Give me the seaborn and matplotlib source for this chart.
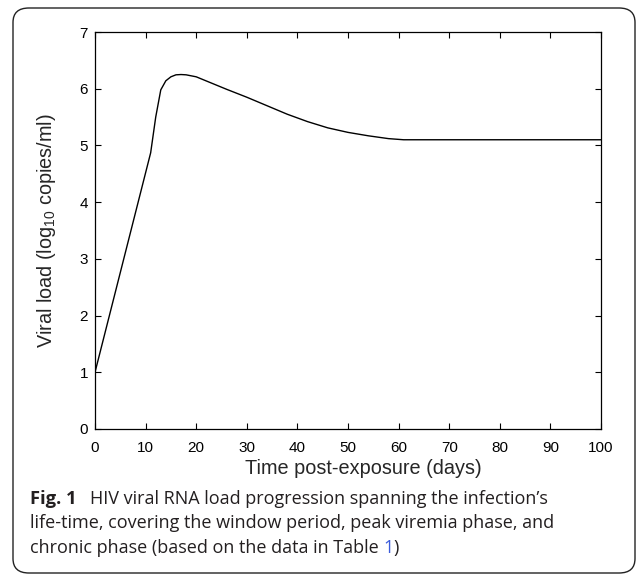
import matplotlib
matplotlib.use("Agg")
import matplotlib.pyplot as plt
from matplotlib.patches import FancyBboxPatch
import seaborn as sns
import pandas as pd

# Data
days = [0, 11, 12, 13, 14, 15, 16, 17, 18, 20, 23, 26, 30, 34, 38, 42, 46, 50, 54, 58, 61, 100]
viral_load = [1.0, 4.87, 5.5, 5.98, 6.14, 6.21, 6.245, 6.25, 6.245, 6.21, 6.10, 5.99,
              5.85, 5.70, 5.55, 5.42, 5.31, 5.23, 5.17, 5.12, 5.10, 5.10]
x_ticks = [0, 10, 20, 30, 40, 50, 60, 70, 80, 90, 100]
y_ticks = [0, 1, 2, 3, 4, 5, 6, 7]

df = pd.DataFrame({"day": days, "load": viral_load})

sns.set_style("ticks")
plt.rcParams['font.family'] = ['Liberation Sans', 'DejaVu Sans']
plt.rcParams['mathtext.fontset'] = 'custom'
plt.rcParams['mathtext.rm'] = 'Liberation Sans'

W, H = 637, 576
fig = plt.figure(figsize=(W / 100, H / 100), dpi=100)
ax = fig.add_axes([95 / W, 1 - 429 / H, (601 - 95) / W, (429 - 32) / H])

sns.lineplot(data=df, x="day", y="load", ax=ax, color="black", linewidth=1.0)

ax.set_xlim(0, 100)
ax.set_ylim(0, 7)
ax.set_xticks(x_ticks)
ax.set_yticks(y_ticks)
ax.tick_params(direction='in', top=True, right=True, length=4, width=0.8,
               labelsize=11, colors='black')
ax.tick_params(axis='x', pad=9)
ax.tick_params(axis='y', pad=5)
for s in ax.spines.values():
    s.set_visible(True)
    s.set_linewidth(0.9)
    s.set_color('black')
xl = ax.set_xlabel("Time post-exposure (days)", fontsize=14.3, va='center')
yl = ax.set_ylabel(r"Viral load (log$_{10}$ copies/ml)", fontsize=14.3, va='center')
ax.xaxis.set_label_coords((363 - 95) / 506, (429 - 469) / 397)
ax.yaxis.set_label_coords((47 - 95) / 506, 0.5)

# Rounded outer frame
box = FancyBboxPatch((13 / W, 1 - 573 / H), (635 - 13) / W, (573 - 8) / H,
                     boxstyle="round,pad=0,rounding_size=0.025",
                     transform=fig.transFigure, fill=False, edgecolor='#222222',
                     linewidth=1.0, zorder=-1)
fig.patches.append(box)

# Caption
cap_font = ['Open Sans', 'DejaVu Sans']
cap_size = 13.0
cap_color = '#231f20'
fig.text(30 / W, 1 - 499 / H, "Fig. 1", fontsize=cap_size * 1.02, fontweight='bold',
         family=cap_font, color=cap_color, va='center')
fig.text(90 / W, 1 - 499 / H, "HIV viral RNA load progression spanning the infection\u2019s",
         fontsize=cap_size, family=cap_font, color=cap_color, va='center')
fig.text(30 / W, 1 - 523.5 / H, "life-time, covering the window period, peak viremia phase, and",
         fontsize=cap_size, family=cap_font, color=cap_color, va='center')
t1 = fig.text(30 / W, 1 - 548 / H, "chronic phase (based on the data in Table ",
              fontsize=cap_size, family=cap_font, color=cap_color, va='center')
fig.canvas.draw()
r = fig.canvas.get_renderer()
bb = t1.get_window_extent(r)
t2 = fig.text(bb.x1 / W, 1 - 548 / H, "1", fontsize=cap_size, family=cap_font,
              color='#3b5bdb', va='center')
fig.canvas.draw()
bb2 = t2.get_window_extent(r)
fig.text(bb2.x1 / W, 1 - 548 / H, ")", fontsize=cap_size, family=cap_font,
         color=cap_color, va='center')

fig.savefig("out.png", dpi=100)
